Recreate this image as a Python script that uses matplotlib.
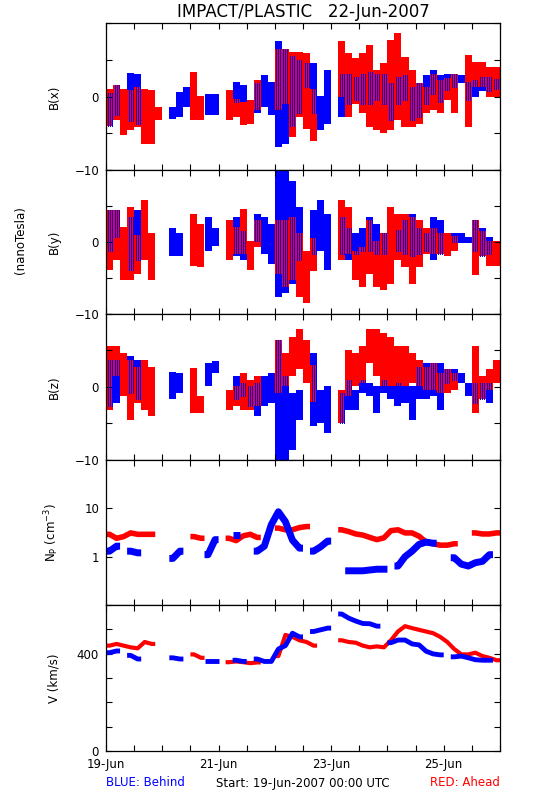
import matplotlib
matplotlib.use("Agg")
import matplotlib.pyplot as plt
import numpy as np
from matplotlib.ticker import FixedLocator, FixedFormatter, NullLocator

# time axis: hours since 19-Jun-2007 00:00, start of each 3-hour bin
# B fields (nT): min / max of the points in each bin
bx_red_h = [0, 3, 6, 9, 12, 15, 18, 21, 36, 39, 51, 54, 57, 60, 63, 72, 75, 78, 81, 84, 87,
            99, 102, 105, 108, 111, 114, 117, 120, 123, 126, 129, 132, 135, 138, 141, 144,
            147, 153, 156, 159, 162, 165]
bx_red_lo = [-4, -3.2, -5.3, -4.6, -4.1, -6.4, -6.4, -3.2, -3.2, -3.2, -3.2, -2.8, -3.9, -3.7,
             -1.9, -1.9, -1, -5.5, -2.8, -4.4, -6, 0, -2.8, -1, -2.3, -4.1, -4.6, -5, -4.6,
             -3.2, -4.1, -4.1, -3.7, -2.3, -1.9, -2.3, -0.5, -2.3, -4.2, 1.3, 1.3, 0, 0]
bx_red_hi = [1, 1.5, 1, 0.9, 1.3, 1, 0.9, -1.4, 3.4, 0, 0.9, -0.3, -0.7, -0.5, 2.2, 6.5, 6.5,
             6, 6, 5.9, 1, 7.5, 5.9, 5.2, 5.9, 7, 3.6, 4.5, 7.7, 8.6, 5.4, 3.6, 1.8, 1.3, 3.1,
             2.2, 2.5, 3.1, 5.6, 4.7, 4.7, 4, 4]

bx_blue_h = [0, 3, 9, 12, 27, 30, 33, 42, 45, 54, 57, 63, 66, 69, 72, 75, 78, 81, 84, 87, 90,
             93, 99, 102, 105, 108, 111, 114, 117, 120, 123, 126, 129, 132, 135, 138, 141,
             144, 147, 150, 153, 156, 159, 162, 165]
bx_blue_lo = [-4, -2.5, -3.3, -3.7, -3, -2.8, -1.4, -2.5, -2.5, -0.7, -0.7, -2.3, -1.4, -2.5,
              -6.9, -6.4, -4, -2.3, 1.3, -2.3, -4.6, -3.7, -2.8, -1, -0.5, -1, -1, -0.5, -1,
              -3.2, -1, -0.5, -3.2, -2.8, -1, 0.4, -0.7, 0.9, 1.3, 1.8, -0.5, 0, 0.8, 0.8, 1]
bx_blue_hi = [0.5, 1.5, 3.2, 3.1, -1.4, 0.6, 1.3, 0.4, 0.4, 2, 1.5, 1.8, 2.9, 2, 7.6, 6.5,
              5.5, 5, 4.5, 4.5, 0, 3.6, 3.1, 3.1, 2.7, 3.1, 3.4, 3.1, 3.1, 1.8, 2.7, 2.9, 1.3,
              1.8, 2.9, 3.6, 2.9, 3.1, 3.1, 2.9, 2, 2.2, 2.6, 2.6, 2.4]

by_red_h = [0, 3, 6, 9, 12, 15, 18, 36, 39, 51, 54, 57, 60, 63, 72, 75, 78, 81, 84, 87, 99,
            102, 105, 108, 111, 114, 117, 120, 123, 126, 129, 132, 135, 138, 141, 144, 147,
            156, 159, 162, 165]
by_red_lo = [-3.9, -2.5, -5.3, -5.3, -4.5, -2.5, -5.3, -3.4, -3.5, -2.5, -1.6, -1.6, -3.9,
             -0.7, -4.4, -6.2, -5.3, -7.6, -8.5, -4, -2.5, -1.6, -5.3, -6.2, -4.4, -6.2, -6.7,
             -5.8, -2.5, -3.5, -5.8, -3.5, -1.6, -1.6, -1.6, -2, -1.2, -4.6, -2, -3.4, -3.4]
by_red_hi = [4.4, 4.4, 2.1, 4.8, 1, 5.8, 1.2, 3.9, 2.5, 3, 2.1, 4.6, 0.2, 3, 3, 3, 3.5, 1.2,
             -1.2, 0.5, 5.8, 4.8, -1.2, -0.7, 3, 0.2, 1.2, 4.8, 3.9, 3.9, 3.5, 3, 2, 2, 1.2,
             1.2, 0.9, 3, 1.5, 0.2, 0.2]

by_blue_h = [0, 3, 9, 12, 27, 30, 42, 45, 54, 57, 63, 66, 69, 72, 75, 78, 81, 87, 90, 93, 99,
             102, 105, 108, 111, 114, 117, 123, 126, 129, 132, 135, 138, 141, 147, 150, 153,
             156, 159, 162]
by_blue_lo = [-1.2, 0.7, -3.9, -2.5, -2, -2, -1.2, -0.5, -2, -2.5, 0.2, -1.6, -3, -7.6, -7.1,
              -5.8, -2.5, -1.6, -1.2, -3.9, -1.6, -2.5, -1.6, -1.2, -1.2, -1.6, -1.6, -1.2,
              -1.6, -2, -1.6, -1.2, -2.5, -1.6, 0, -0.2, -0.2, -1.2, -2, -1.6]
by_blue_hi = [4.4, 4.4, 3.5, 4.4, 2, 1.2, 3.5, 2, 3.5, 1.5, 3.9, 3.5, 2.5, 10, 10, 8.5, 4.8,
              4.4, 5.8, 3.9, 3.5, 2, 1.2, 2, 3.5, 2.5, 1.2, 1.6, 3, 3.9, 2, 1.2, 3.5, 3, 1.2,
              1.2, 0.7, 3, 2, 0.7]

bz_red_h = [0, 3, 6, 9, 12, 15, 18, 36, 39, 51, 54, 57, 60, 63, 72, 75, 78, 81, 84, 87, 99,
            102, 105, 108, 111, 114, 117, 120, 123, 126, 129, 132, 135, 138, 141, 144, 147,
            156, 159, 162, 165]
bz_red_lo = [-3.1, 1.5, -1.3, -4.5, -2.2, -3.1, -4, -3.6, -3.6, -3.1, -2.6, -3.1, -3.1, -2.6,
             -0.8, 0.1, 1.5, 2.4, 0.5, -2, -4.9, -1.3, 0.1, 0.5, 3.3, 1.5, 0.1, 0.1, 0.1, 0.1,
             0.5, 0.1, -0.4, -0.4, -0.8, -0.8, -0.4, -3.6, -1.7, -0.4, 0.5]
bz_red_hi = [5.6, 5.6, 4.7, 3.7, 2.8, 3.7, 2.8, 2.6, -1.3, -0.4, 0.2, 1.9, 1, 1.5, 6.5, 4.7,
             6.9, 7.9, 6.5, 3, -0.4, 5.1, 4.7, 5.6, 7.9, 7.9, 7.4, 6.9, 5.6, 5.6, 4.7, 3.7,
             2.8, 3.3, 1.9, 2.4, 1.9, 5.6, 1.5, 2.4, 3.7]

bz_blue_h = [0, 3, 9, 12, 27, 30, 42, 45, 54, 57, 60, 63, 66, 69, 72, 75, 78, 81, 87, 90, 93,
             99, 102, 105, 108, 111, 114, 117, 120, 123, 126, 129, 132, 135, 138, 141, 144,
             147, 150, 153, 156, 159, 162]
bz_blue_lo = [-2.6, -2.2, -0.8, -1.7, -1.7, -0.8, 0.1, 1.9, -1.7, -1.3, -2.6, -4, -2.6, -2.2,
              -10, -10, -8.6, -4.5, -5.4, -4.9, -6.3, -4.9, -3.1, -3.1, -0.8, -1.3, -3.6,
              -0.8, -1.7, -2.6, -2.2, -4.5, -1.7, -1.7, -1.3, -3.1, 0.5, 1, 0.5, -1.3, -2.2,
              -1.7, -2.2]
bz_blue_hi = [3.7, 3.7, 4.2, 3.7, 2.1, 1.9, 3.3, 3.5, 1.5, 0.5, 0.1, 0.5, 1.5, 1.9, 6.5, 1.5,
              -0.8, -0.4, 4.7, -0.4, 0.1, -0.8, 1, -0.4, 1, 0.5, 0.1, 1, 0.1, 0.5, 0.1, 0.1,
              2.8, 3.3, 3.3, 3.3, 2.4, 2.4, 1.9, 0.5, 0.5, 0.5, 0.5]

# proton density (cm^-3)
np_red_h = [0, 3, 6, 9, 12, 15, 18, 36, 39, 51, 54, 57, 60, 63, 72, 75, 78, 81, 84, 99, 102,
            105, 108, 111, 114, 117, 120, 123, 126, 129, 132, 135, 138, 141, 144, 147, 156,
            159, 162, 165]
np_red = [2.9, 2.4, 2.6, 3.1, 2.9, 2.9, 2.9, 2.6, 2.4, 2.4, 2.15, 2.7, 2.9, 2.5, 3.9, 3.6,
          3.6, 4.0, 4.2, 3.6, 3.3, 2.95, 2.8, 2.5, 2.25, 2.45, 3.45, 3.6, 3.1, 3.1, 2.65, 2.0,
          1.85, 1.73, 1.73, 1.85, 3.1, 2.95, 2.95, 3.1]
np_blue_h = [0, 3, 9, 12, 27, 30, 42, 45, 54, 63, 66, 69, 72, 75, 78, 81, 87, 90, 93, 102,
             105, 108, 111, 114, 117, 123, 126, 129, 132, 135, 138, 147, 150, 153, 156, 159,
             162]
np_blue = [1.3, 1.65, 1.3, 1.2, 0.92, 1.3, 1.1, 2.25, 2.85, 1.3, 1.65, 4.6, 8.5, 5.3, 2.2,
           1.5, 1.3, 1.6, 2.1, 0.51, 0.51, 0.51, 0.53, 0.55, 0.55, 0.64, 1.0, 1.3, 1.8, 2.0,
           1.9, 0.95, 0.7, 0.64, 0.75, 0.8, 1.1]

# bulk speed (km/s)
v_red_h = [0, 3, 6, 9, 12, 15, 18, 36, 39, 51, 54, 57, 60, 63, 72, 75, 78, 81, 84, 87, 99,
           102, 105, 108, 111, 114, 117, 120, 123, 126, 129, 132, 135, 138, 141, 144, 147,
           150, 153, 156, 159, 162, 165]
v_red = [433, 440, 433, 426, 422, 448, 440, 397, 383, 365, 368, 365, 361, 364, 390, 477, 469,
         455, 448, 433, 455, 448, 445, 433, 426, 430, 426, 455, 491, 513, 505, 498, 491, 484,
         469, 448, 419, 397, 397, 404, 390, 383, 373]
v_blue_h = [0, 3, 9, 12, 27, 30, 42, 45, 54, 57, 63, 66, 69, 72, 75, 78, 81, 87, 90, 93, 99,
            102, 105, 108, 111, 114, 120, 123, 126, 129, 132, 135, 138, 141, 147, 150, 153,
            156, 159, 162]
v_blue = [404, 411, 393, 378, 383, 378, 368, 368, 373, 368, 378, 368, 368, 419, 433, 484, 469,
          491, 498, 505, 563, 546, 534, 524, 523, 513, 445, 456, 456, 440, 436, 410, 399, 395,
          387, 390, 383, 375, 373, 373]

x_ticks = list(range(0, 169, 12))
x_labels = ["19-Jun", "", "", "", "21-Jun", "", "", "", "23-Jun", "", "", "", "25-Jun", "", ""]

RED = "#ff0000"
BLUE = "#0000ff"
FS = 8.5
PX = 168 / 394  # hours per pixel column


def draw_pair(ax, rh, rlo, rhi, bh, blo, bhi):
    # red ranges as solid blocks; blue on top, striped where both craft overlap
    ax.bar(rh, np.subtract(rhi, rlo), bottom=rlo, width=3, align="edge", color=RED,
           linewidth=0)
    red = dict(zip(rh, zip(rlo, rhi)))
    for h, lo, hi in zip(bh, blo, bhi):
        solid = [(lo, hi)]
        if h in red:
            r0, r1 = red[h]
            a, b = max(lo, r0), min(hi, r1)
            if a < b:
                solid = [s for s in ((lo, min(hi, r0)), (max(lo, r1), hi)) if s[1] > s[0]]
                cols = h + (np.arange(1, 7, 2) + 0.5) * PX
                ax.vlines(cols, a, b, colors=BLUE, linewidth=0.72, antialiased=False)
        for s0, s1 in solid:
            ax.bar(h, s1 - s0, bottom=s0, width=3, align="edge", color=BLUE, linewidth=0)


def draw_trace(ax, hours, vals, color, lw):
    h = np.asarray(hours, float) + 1.5
    v = np.asarray(vals, float)
    cuts = np.where(np.diff(h) > 3.5)[0] + 1
    for hs, vs in zip(np.split(h, cuts), np.split(v, cuts)):
        hs = np.concatenate([[hs[0] - 1.5], hs, [hs[-1] + 1.5]])
        vs = np.concatenate([[vs[0]], vs, [vs[-1]]])
        ax.plot(hs, vs, color=color, lw=lw, solid_capstyle="butt")


plt.rcParams["font.family"] = ["DejaVu Sans"]
plt.rcParams["mathtext.default"] = "regular"

fig = plt.figure(figsize=(5.5, 8), dpi=100)
edges = [23, 170, 314, 460, 605, 751]
axes = []
for i in range(5):
    top, bot = edges[i], edges[i + 1]
    ax = fig.add_axes([106 / 550, 1 - bot / 800, 394 / 550, (bot - top) / 800])
    ax.set_xlim(0, 168)
    ax.xaxis.set_major_locator(FixedLocator(x_ticks))
    if i == 4:
        ax.xaxis.set_major_formatter(FixedFormatter(x_labels))
    else:
        ax.set_xticklabels([])
    ax.tick_params(direction="in", length=4, width=0.8, top=True, right=True,
                   labelsize=FS, pad=5)
    for s in ax.spines.values():
        s.set_linewidth(0.9)
    axes.append(ax)

b_sets = [
    ("B(x)", bx_red_h, bx_red_lo, bx_red_hi, bx_blue_h, bx_blue_lo, bx_blue_hi),
    ("B(y)", by_red_h, by_red_lo, by_red_hi, by_blue_h, by_blue_lo, by_blue_hi),
    ("B(z)", bz_red_h, bz_red_lo, bz_red_hi, bz_blue_h, bz_blue_lo, bz_blue_hi),
]
for ax, (lab, rh, rlo, rhi, bh, blo, bhi) in zip(axes[:3], b_sets):
    draw_pair(ax, rh, rlo, rhi, bh, blo, bhi)
    ax.set_ylim(-10, 10)
    ax.yaxis.set_major_locator(FixedLocator([-10, -5, 0, 5, 10]))
    ax.yaxis.set_major_formatter(FixedFormatter(["\u221210", "", "0", "", ""]))
    ax.set_ylabel(lab, fontsize=FS)
    ax.yaxis.set_label_coords(-0.115, 0.5)

ax = axes[3]
draw_trace(ax, np_red_h, np_red, RED, 4)
draw_trace(ax, np_blue_h, np_blue, BLUE, 5)
ax.set_yscale("log")
ax.set_ylim(0.1, 100)
ax.yaxis.set_major_locator(FixedLocator([1, 10]))
ax.yaxis.set_major_formatter(FixedFormatter(["1", "10"]))
ax.yaxis.set_minor_locator(NullLocator())
ax.set_ylabel("N$_P$ (cm$^{-3}$)", fontsize=FS)
ax.yaxis.set_label_coords(-0.115, 0.5)

ax = axes[4]
draw_trace(ax, v_red_h, v_red, RED, 3)
draw_trace(ax, v_blue_h, v_blue, BLUE, 3.5)
ax.set_ylim(0, 600)
ax.yaxis.set_major_locator(FixedLocator(list(range(0, 601, 100))))
ax.yaxis.set_major_formatter(FixedFormatter(["0", "", "", "", "400", "", ""]))
ax.set_ylabel("V (km/s)", fontsize=FS)
ax.yaxis.set_label_coords(-0.115, 0.5)

fig.text(303 / 550, 1 - 12 / 800, "IMPACT/PLASTIC   22-Jun-2007", ha="center", va="center",
         fontsize=12)
fig.text(20 / 550, 1 - 240 / 800, "(nanoTesla)", rotation=90, ha="center", va="center",
         fontsize=FS)
fig.text(106 / 550, 1 - 783 / 800, "BLUE: Behind", color=BLUE, ha="left", va="center",
         fontsize=FS)
fig.text(303 / 550, 1 - 783 / 800, "Start: 19-Jun-2007 00:00 UTC", ha="center", va="center",
         fontsize=FS)
fig.text(500 / 550, 1 - 783 / 800, "RED: Ahead", color=RED, ha="right", va="center",
         fontsize=FS)

fig.savefig("out.png", dpi=100)
